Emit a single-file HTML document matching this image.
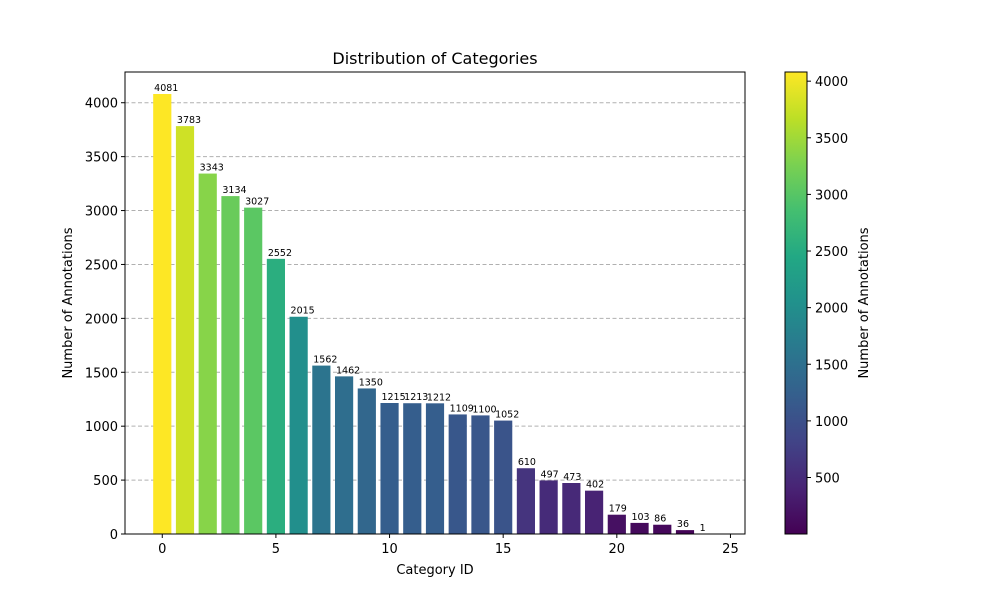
<!DOCTYPE html>
<html><head><meta charset="utf-8"><style>
body{margin:0;background:#fff;}
svg text{font-family:"DejaVu Sans","Liberation Sans",sans-serif;fill:#000;}
</style></head><body>
<svg id="chart" width="1000" height="600" xmlns="http://www.w3.org/2000/svg">
<defs>
<linearGradient id="vir" x1="0" y1="1" x2="0" y2="0">
<stop offset="0" stop-color="#440154"/><stop offset="0.1" stop-color="#482475"/><stop offset="0.2" stop-color="#414487"/><stop offset="0.3" stop-color="#355f8d"/><stop offset="0.4" stop-color="#2a788e"/><stop offset="0.5" stop-color="#21918c"/><stop offset="0.6" stop-color="#22a884"/><stop offset="0.7" stop-color="#44bf70"/><stop offset="0.8" stop-color="#7ad151"/><stop offset="0.9" stop-color="#bddf26"/><stop offset="1" stop-color="#fde725"/>
</linearGradient>
</defs>
<g id="grid"></g><g id="bars"></g><g id="axes"></g>
<text x="435" y="64" font-size="16" text-anchor="middle">Distribution of Categories</text>
<text x="435" y="574" font-size="13" text-anchor="middle">Category ID</text>
<text transform="translate(72,303) rotate(-90)" font-size="13" text-anchor="middle">Number of Annotations</text>
<rect x="785" y="72" width="22" height="462" fill="url(#vir)" stroke="#000" stroke-width="1"/>
<g id="cbticks"></g>
<text transform="translate(868,303) rotate(-90)" font-size="13" text-anchor="middle">Number of Annotations</text>
</svg>
<script>
const categories=[0,1,2,3,4,5,6,7,8,9,10,11,12,13,14,15,16,17,18,19,20,21,22,23,24];
const counts=[4081,3783,3343,3134,3027,2552,2015,1562,1462,1350,1215,1213,1212,1109,1100,1052,610,497,473,402,179,103,86,36,1];
const yTicks=[0,500,1000,1500,2000,2500,3000,3500,4000];
const xTicks=[0,5,10,15,20,25];
const cbTicks=[500,1000,1500,2000,2500,3000,3500,4000];
const NS='http://www.w3.org/2000/svg';
const L=125,R=745,T=72,B=534;
const maxV=Math.max(...counts),minV=Math.min(...counts);
const yMax=maxV*1.05;
const xMin=-0.4-1.24*(categories.length-1+0.8)/24.8, xMax=categories.length-1+0.4+1.24*(categories.length-1+0.8)/24.8;
const xs=v=>L+(v-xMin)/(xMax-xMin)*(R-L);
const ys=v=>B-v/yMax*(B-T);
const stops=[[68,1,84],[72,36,117],[65,68,135],[53,95,141],[42,120,142],[33,145,140],[34,168,132],[68,191,112],[122,209,81],[189,223,38],[253,231,37]];
function vir(t){t=Math.max(0,Math.min(1,t))*10;const i=Math.min(9,Math.floor(t)),f=t-i;const a=stops[i],b=stops[i+1];return 'rgb('+a.map((c,k)=>Math.round(c+(b[k]-c)*f)).join(',')+')';}
function mk(tag,attrs,parent,txt){const e=document.createElementNS(NS,tag);for(const k in attrs)e.setAttribute(k,attrs[k]);if(txt!==undefined)e.textContent=txt;document.getElementById(parent).appendChild(e);return e;}
yTicks.forEach(v=>{if(v===0)return;const g=mk('line',{x1:L,x2:R,y1:ys(v),y2:ys(v),stroke:'#b0b0b0','stroke-dasharray':'4,2.5','stroke-width':1},'grid');

});
categories.forEach((c,i)=>{const x0=xs(c-0.4),x1=xs(c+0.4);
const r=mk('rect',{x:x0,y:ys(counts[i]),width:x1-x0,height:B-ys(counts[i]),fill:vir((counts[i]-minV)/(maxV-minV))},'bars');


const t=mk('text',{x:x0+1,y:ys(counts[i])-3,'font-size':9.5},'bars',String(counts[i]));

});
const fr=mk('rect',{x:L,y:T,width:R-L,height:B-T,fill:'none',stroke:'#000','stroke-width':1},'axes');


yTicks.forEach(v=>{mk('line',{x1:L-4,x2:L,y1:ys(v),y2:ys(v),stroke:'#000'},'axes');
const t=mk('text',{x:L-7,y:ys(v)+5,'font-size':13,'text-anchor':'end'},'axes',String(v));

});
xTicks.forEach(v=>{mk('line',{x1:xs(v),x2:xs(v),y1:B,y2:B+4,stroke:'#000'},'axes');
const t=mk('text',{x:xs(v),y:B+19,'font-size':13,'text-anchor':'middle'},'axes',String(v));

});
const cy=v=>534-(v-minV)/(maxV-minV)*462;
cbTicks.forEach(v=>{mk('line',{x1:807,x2:811,y1:cy(v),y2:cy(v),stroke:'#000'},'cbticks');
const t=mk('text',{x:815,y:cy(v)+5,'font-size':13},'cbticks',String(v));

});
</script>
</body></html>
